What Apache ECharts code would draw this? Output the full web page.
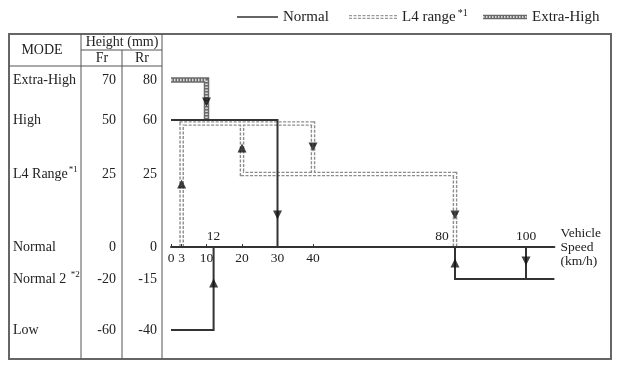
<!DOCTYPE html>
<html><head><meta charset="utf-8">
<script src="https://cdn.jsdelivr.net/npm/echarts@6/dist/echarts.min.js"></script>
<style>html,body{margin:0;padding:0;background:#fff}#c{width:619px;height:366px}</style>
</head><body><div id="c"></div>
<script>
// ---- data ----
const modes = ['Extra-High', 'High', 'L4 Range', 'Normal', 'Normal 2 ', 'Low'];
const modeNotes = ['', '', '*1', '', '*2', ''];
const frHeights = [70, 50, 25, 0, -20, -60];
const rrHeights = [80, 60, 25, 0, -15, -40];
// schematic level of each mode in the diagram (not to scale)
const modeLevels = [167, 127, 73, 0, -32, -83];
const belowTicks = [0, 3, 10, 20, 30, 40];
const aboveTicks = [12, 80, 100];
const speedMax = 108;
const levelMin = -111, levelMax = 213;
// transition paths [speed km/h, level]
const normalPaths = [
  [[0, -83], [12, -83], [12, 0]],
  [[0, 127], [30, 127], [30, 0]],
  [[80, 0], [80, -32], [108, -32]],
  [[100, 0], [100, -32]]
];
const l4Paths = [
  [[3, 0], [3, 123.5], [40, 123.5], [40, 73]],
  [[20, 123.5], [20, 73], [80, 73], [80, 0]]
];
const extraHighPaths = [
  [[0, 167], [10, 167], [10, 127]]
];
const upArrows = [[3, 63], [20, 99], [12, -36], [80, -16]];
const downArrows = [[10, 145], [40, 100], [30, 32], [80, 32], [100, -14]];

// ---- chart ----
const SERIF = '"Liberation Serif", "Times New Roman", serif';
const TXT = '#222';
const GRID_TOP = 34, GRID_H = 324;
const pxPerLevel = GRID_H / (levelMax - levelMin);
const chart = echarts.init(document.getElementById('c'), null, {renderer: 'canvas'});

const series = [];
normalPaths.forEach(p => series.push({
  type: 'line', data: p, symbol: 'none', silent: true, z: 5, clip: false,
  lineStyle: {color: '#333', width: 2, cap: 'butt', join: 'miter'}
}));
l4Paths.forEach(p => {
  series.push({type: 'line', data: p, symbol: 'none', silent: true, z: 3, clip: false,
    lineStyle: {color: '#8c8c8c', width: 4.6, type: [3, 1.5], cap: 'butt', join: 'miter'}});
  series.push({type: 'line', data: p, symbol: 'none', silent: true, z: 4, clip: false,
    lineStyle: {color: '#fff', width: 1.8, cap: 'butt', join: 'miter'}});
});
extraHighPaths.forEach(p => {
  series.push({type: 'line', data: p, symbol: 'none', silent: true, z: 3, clip: false,
    lineStyle: {color: '#6a6a6a', width: 5.5, cap: 'butt', join: 'miter'}});
  series.push({type: 'line', data: p, symbol: 'none', silent: true, z: 4, clip: false,
    lineStyle: {color: '#d6d6d6', width: 2.6, type: [1.5, 1.5], cap: 'butt', join: 'miter'}});
});
series.push({type: 'scatter', data: upArrows, symbol: 'triangle', symbolSize: [9, 9],
  silent: true, z: 7, itemStyle: {color: '#111'}});
series.push({type: 'scatter', data: downArrows, symbol: 'triangle', symbolSize: [9, 9],
  symbolRotate: 180, silent: true, z: 7, itemStyle: {color: '#111'}});

const hiddenY = {type: 'value', min: levelMin, max: levelMax, position: 'left',
  axisLine: {show: false, onZero: false}, axisTick: {show: false}, splitLine: {show: false}};

// distance of level 0 from the grid's bottom and top edges
const zeroFromBottom = (0 - levelMin) * pxPerLevel;
const zeroFromTop = (levelMax - 0) * pxPerLevel;

const option = {
  animation: false,
  backgroundColor: '#fff',
  grid: {left: 171, top: GRID_TOP, width: speedMax * 3.55, height: GRID_H, containLabel: false, outerBoundsMode: 'none'},
  xAxis: [
    {type: 'value', min: 0, max: speedMax, position: 'bottom', offset: -zeroFromBottom, z: 6,
      axisLine: {onZero: false, lineStyle: {color: '#333', width: 2}},
      axisTick: {show: true, inside: true, length: 3, customValues: belowTicks, lineStyle: {color: '#333'}},
      axisLabel: {customValues: belowTicks, margin: 4, color: TXT, fontFamily: SERIF, fontSize: 13.5},
      splitLine: {show: false},
      name: 'Vehicle\nSpeed\n(km/h)', nameLocation: 'end', nameGap: 6,
      nameTextStyle: {color: TXT, fontFamily: SERIF, fontSize: 13.5, lineHeight: 14, align: 'left', padding: [11, 0, 0, 0]}
    },
    {type: 'value', min: 0, max: speedMax, position: 'top', offset: -zeroFromTop,
      axisLine: {show: false, onZero: false},
      axisTick: {show: false},
      axisLabel: {customValues: aboveTicks, margin: 4, color: TXT, fontFamily: SERIF, fontSize: 13.5,
        formatter: v => v === 80 ? '{s|80}' : String(v),
        rich: {s: {fontFamily: SERIF, fontSize: 13.5, color: TXT, padding: [0, 26, 0, 0]}}},
      splitLine: {show: false}
    }
  ],
  yAxis: [
    Object.assign({}, hiddenY, {axisLabel: {customValues: modeLevels, align: 'left', margin: 158,
      color: TXT, fontFamily: SERIF, fontSize: 14,
      formatter: v => { const i = modeLevels.indexOf(v); return modes[i] + (modeNotes[i] ? '{s|' + modeNotes[i] + '}' : ''); },
      rich: {s: {fontFamily: SERIF, fontSize: 9, color: TXT, padding: [0, 0, 8, 1]}}}}),
    Object.assign({}, hiddenY, {axisLabel: {customValues: modeLevels, align: 'right', margin: 55,
      color: TXT, fontFamily: SERIF, fontSize: 14,
      formatter: v => String(frHeights[modeLevels.indexOf(v)])}}),
    Object.assign({}, hiddenY, {axisLabel: {customValues: modeLevels, align: 'right', margin: 14,
      color: TXT, fontFamily: SERIF, fontSize: 14,
      formatter: v => String(rrHeights[modeLevels.indexOf(v)])}})
  ],
  series: series,
  graphic: [
    // table frame
    {type: 'rect', shape: {x: 9, y: 34, width: 602, height: 325}, style: {fill: null, stroke: '#666', lineWidth: 2}, silent: true},
    {type: 'line', shape: {x1: 81, y1: 34, x2: 81, y2: 359}, style: {stroke: '#555', lineWidth: 1}, silent: true},
    {type: 'line', shape: {x1: 122, y1: 50, x2: 122, y2: 359}, style: {stroke: '#555', lineWidth: 1}, silent: true},
    {type: 'line', shape: {x1: 162, y1: 34, x2: 162, y2: 359}, style: {stroke: '#555', lineWidth: 1}, silent: true},
    {type: 'line', shape: {x1: 81, y1: 50, x2: 162, y2: 50}, style: {stroke: '#555', lineWidth: 1}, silent: true},
    {type: 'line', shape: {x1: 9, y1: 66, x2: 162, y2: 66}, style: {stroke: '#555', lineWidth: 1}, silent: true},
    {type: 'text', x: 42, y: 50, style: {text: 'MODE', font: '14px ' + SERIF, fill: TXT, align: 'center', verticalAlign: 'middle'}, silent: true},
    {type: 'text', x: 122, y: 42, style: {text: 'Height (mm)', font: '14px ' + SERIF, fill: TXT, align: 'center', verticalAlign: 'middle'}, silent: true},
    {type: 'text', x: 102, y: 58, style: {text: 'Fr', font: '14px ' + SERIF, fill: TXT, align: 'center', verticalAlign: 'middle'}, silent: true},
    {type: 'text', x: 142, y: 58, style: {text: 'Rr', font: '14px ' + SERIF, fill: TXT, align: 'center', verticalAlign: 'middle'}, silent: true},
    // legend
    {type: 'line', shape: {x1: 237, y1: 17, x2: 278, y2: 17}, style: {stroke: '#333', lineWidth: 1.5}, silent: true},
    {type: 'text', x: 283, y: 17, style: {text: 'Normal', font: '15px ' + SERIF, fill: TXT, verticalAlign: 'middle'}, silent: true},
    {type: 'line', shape: {x1: 349, y1: 17, x2: 398, y2: 17}, style: {stroke: '#9a9a9a', lineWidth: 4, lineDash: [3, 1.5]}, silent: true},
    {type: 'line', shape: {x1: 349, y1: 17, x2: 398, y2: 17}, style: {stroke: '#fff', lineWidth: 1.6}, silent: true},
    {type: 'text', x: 402, y: 17, style: {text: 'L4 range{s|*1}', font: '15px ' + SERIF, fill: TXT, verticalAlign: 'middle',
      rich: {s: {font: '10px ' + SERIF, fill: TXT, padding: [0, 0, 8, 2]}}}, silent: true},
    {type: 'line', shape: {x1: 483, y1: 17, x2: 527, y2: 17}, style: {stroke: '#6a6a6a', lineWidth: 4.5}, silent: true},
    {type: 'line', shape: {x1: 483, y1: 17, x2: 527, y2: 17}, style: {stroke: '#d6d6d6', lineWidth: 2, lineDash: [1.5, 1.5]}, silent: true},
    {type: 'text', x: 532, y: 17, style: {text: 'Extra-High', font: '15px ' + SERIF, fill: TXT, verticalAlign: 'middle'}, silent: true}
  ]
};
chart.setOption(option);
</script>
</body></html>
